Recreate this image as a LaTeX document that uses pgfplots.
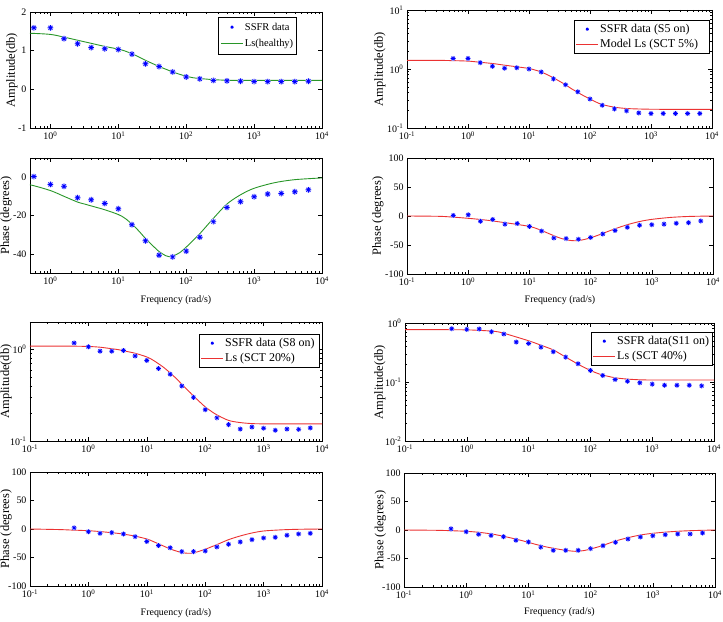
\documentclass[border=0pt]{standalone}
\usepackage{fontspec}
\setmainfont{Liberation Serif}
\usepackage{pgfplots}
\pgfplotsset{compat=1.18}
\usepackage{pgfplotstable}

\definecolor{fitgreen}{RGB}{40,150,40}
\definecolor{fitred}{RGB}{235,50,50}

% MATLAB-style '*' marker (plus and cross) with a faint halo
\pgfdeclareplotmark{mstar}{%
  \pgfsetfillcolor{blue!20}%
  \pgfpathcircle{\pgfpointorigin}{1.1\pgfplotmarksize}\pgfusepathqfill
  \pgfpathmoveto{\pgfqpoint{-\pgfplotmarksize}{0pt}}\pgfpathlineto{\pgfqpoint{\pgfplotmarksize}{0pt}}%
  \pgfpathmoveto{\pgfqpoint{0pt}{-\pgfplotmarksize}}\pgfpathlineto{\pgfqpoint{0pt}{\pgfplotmarksize}}%
  \pgfpathmoveto{\pgfqpoint{-0.707\pgfplotmarksize}{-0.707\pgfplotmarksize}}\pgfpathlineto{\pgfqpoint{0.707\pgfplotmarksize}{0.707\pgfplotmarksize}}%
  \pgfpathmoveto{\pgfqpoint{-0.707\pgfplotmarksize}{0.707\pgfplotmarksize}}\pgfpathlineto{\pgfqpoint{0.707\pgfplotmarksize}{-0.707\pgfplotmarksize}}%
  \pgfusepathqstroke}

% SSFR measurements: amplitude (a) and phase (p) for healthy, S5, S8, S11
\pgfplotstableread{
f     a1    p1     a2     p2     a3     p3     a4     p4
0.57  1.59  0.3    1.51   1      1.18   2      0.80   2
1     1.59  -3.8   1.51   2      1.07   -4.7   0.78   -3
1.585 1.31  -4.8   1.28   -9     0.96   -7.6   0.79   -7.6
2.512 1.18  -10.7  1.11   -6     0.96   -6.4   0.71   -9.4
3.981 1.08  -11.8  1.03   -14    0.975  -8.7   0.65   -11.7
6.310 1.05  -13.7  1.05   -13    0.85   -13.4  0.475  -18
10    1.03  -16.5  1.00   -18    0.76   -22    0.45   -21
15.85 0.91  -24.8  0.89   -26    0.62   -29    0.39   -30
25.12 0.66  -33.2  0.68   -38    0.537  -33    0.326  -35.7
39.81 0.59  -40.7  0.54   -39    0.40   -39.7  0.264  -35.7
63.10 0.45  -41.6  0.41   -40    0.30   -39.7  0.204  -35.7
100   0.32  -38.6  0.31   -37    0.22   -38.5  0.157  -32.7
158.5 0.27  -31.3  0.243  -31    0.179  -31.5  0.129  -27.5
251.2 0.23  -23.2  0.211  -25    0.151  -26.8  0.110  -21.6
398.1 0.22  -15.8  0.195  -19.5  0.135  -22.7  0.103  -15.8
631.0 0.21  -12.8  0.180  -16    0.142  -18.7  0.097  -12.3
1000  0.20  -10.2  0.176  -15    0.138  -15.7  0.092  -10
1585  0.20  -8.8   0.176  -14    0.131  -14.6  0.088  -8.2
2512  0.20  -8.5   0.176  -12.6  0.135  -11    0.088  -7
3981  0.20  -7.6   0.176  -11.5  0.134  -8.7   0.088  -7
6310  0.21  -6.6   0.176  -8.6   0.139  -7.6   0.086  -5.3
}\ssfr

% Model Ls responses for the same four cases
\pgfplotstableread{
f      a1     p1     a2     p2     a3     p3     a4     p4
0.1    1.45   -3     1.40   0      1.09   0      0.77   0
0.3162 1.45   -3.5   1.40   -0.5   1.09   -1     0.77   -0.5
0.5    1.45   -4     1.39   -1.5   1.09   -1.8   0.77   -1.0
1      1.42   -7     1.36   -4     1.08   -3     0.765  -2.3
1.585  1.35   -10    1.30   -6     1.06   -4.5   0.75   -4
2.512  1.27   -13    1.24   -8.5   1.02   -6.5   0.73   -6.8
3.162  1.23   -14    1.20   -10    1.00   -7.6   0.71   -8.8
3.981  1.19   -15    1.16   -11.5  0.97   -9     0.67   -11
6.310  1.11   -17    1.09   -14.5  0.91   -12.5  0.58   -16
10     1.04   -19.5  1.02   -18    0.83   -17.5  0.50   -21.6
12.59  0.99   -21.5  0.96   -21    0.77   -21.5  0.46   -24.7
15.85  0.92   -24.5  0.89   -25    0.70   -26    0.42   -27.5
19.95  0.84   -28    0.80   -29.5  0.63   -30.5  0.385  -30
25.12  0.75   -32    0.71   -34    0.555  -35    0.35   -32
31.62  0.67   -35.5  0.62   -38    0.485  -38.5  0.305  -34
39.81  0.59   -38.8  0.54   -41    0.417  -41.4  0.264  -35.7
50.12  0.52   -41    0.46   -42.5  0.36   -42.6  0.23   -37
56.23  0.485  -41.5  0.43   -42.7  0.335  -42.6  0.215  -37.4
63.10  0.45   -41.2  0.40   -42.3  0.31   -42    0.20   -37.2
79.43  0.39   -39.5  0.35   -40.5  0.27   -39    0.177  -36
100    0.34   -36.5  0.31   -37.5  0.236  -35.6  0.157  -33.3
125.9  0.30   -33    0.275  -34    0.212  -31.5  0.142  -30.3
158.5  0.28   -29.5  0.25   -30    0.193  -27.4  0.131  -27
251.2  0.25   -21.5  0.225  -22    0.168  -18.7  0.118  -19.3
398.1  0.235  -14    0.214  -15    0.159  -12.2  0.112  -13.5
631.0  0.23   -9.2   0.21   -9.5   0.155  -7     0.109  -8.8
1000   0.23   -5.8   0.208  -5.8   0.154  -3.5   0.108  -5.8
1995   0.23   -2.9   0.207  -2.5   0.154  -1.5   0.108  -2.9
3981   0.23   -1.3   0.207  -0.8   0.154  -0.5   0.108  -1.2
10000  0.23   -0.4   0.207  0      0.154  0      0.108  0
}\model

\newcommand\tk{\fontsize{10}{12}\selectfont}
\newcommand\dec[1]{10\textsuperscript{#1}}

% common look of every panel
\pgfplotsset{
  legend image code/.code={\draw[mark repeat=2,mark phase=2,#1,mark size=1.5bp]
    plot coordinates {(0bp,0bp) (11bp,0bp) (22bp,0bp)};},
  every axis/.append style={
    scale only axis, xmode=log, xmax=10000,
    axis line style={line width=0.7bp},
    every tick/.style={black, line width=0.5bp},
    major tick length=4bp, minor tick length=2bp,
    tick label style={font=\tk},
    xlabel style={font=\tk},
    ylabel style={font=\fontsize{12.5}{14}\selectfont, anchor=center},
    minor xtick={0.2,0.3,0.4,0.5,0.6,0.7,0.8,0.9,2,3,4,5,6,7,8,9,20,30,40,50,60,70,80,90,200,300,400,500,600,700,800,900,2000,3000,4000,5000,6000,7000,8000,9000},
    legend style={font=\fontsize{12}{14}\selectfont, draw=black, line width=0.6bp,
      inner xsep=2bp, inner ysep=2.5bp, row sep=2.5bp, nodes={inner sep=1.5bp},
      at={(axis description cs:1,1)}, anchor=north east},
    legend cell align=left,
  },
}

\begin{document}
\begin{tikzpicture}
\path[use as bounding box] (0,0) rectangle (723bp,622bp);

% healthy machine: amplitude
\begin{axis}[at={(30bp,494bp)}, anchor=south west, width=292bp, height=116bp,
  xmin=0.5, xtick={1,10,100,1000,10000},
  xticklabels={\dec{0},\dec{1},\dec{2},\dec{3},\dec{4}},
  ymin=-1, ymax=2, ytick={-1,0,1,2}, yticklabels={-1,0,1,2},
  ylabel={Amplitude(db)}, ylabel style={at={(axis description cs:-0.062,0.5)}},
  legend style={xshift=-25bp, yshift=-5bp, font=\fontsize{10.5}{12.5}\selectfont,
    row sep=5bp, inner ysep=4bp}]
\addplot[only marks, mark=mstar, blue, mark size=2.8bp, line width=0.7bp] table[x=f, y=a1] {\ssfr};
\addlegendentry{SSFR data}
\addplot[fitgreen, line width=0.9bp, smooth] table[x=f, y=a1] {\model};
\addlegendentry{Ls(healthy)}
\end{axis}

% healthy machine: phase
\begin{axis}[at={(30bp,349bp)}, anchor=south west, width=292bp, height=115bp,
  xmin=0.5, xtick={1,10,100,1000,10000},
  xticklabels={\dec{0},\dec{1},\dec{2},\dec{3},\dec{4}},
  ymin=-50, ymax=10, ytick={-40,-20,0}, yticklabels={-40,-20,0},
  xlabel={Frequency (rad/s)}, xlabel style={at={(axis description cs:0.5,-0.235)}, anchor=center},
  ylabel={Phase (degrees)}, ylabel style={at={(axis description cs:-0.082,0.5)}}]
\addplot[only marks, mark=mstar, blue, mark size=2.8bp, line width=0.7bp] table[x=f, y=p1] {\ssfr};
\addplot[fitgreen, line width=0.9bp, smooth] table[x=f, y=p1] {\model};
\end{axis}

% S5 shorted: amplitude
\begin{axis}[at={(407bp,494bp)}, anchor=south west, width=305bp, height=118bp,
  xmin=0.1, xtick={0.1,1,10,100,1000,10000},
  xticklabels={\dec{-1},\dec{0},\dec{1},\dec{2},\dec{3},\dec{4}},
  ymode=log, ymin=0.1, ymax=10, ytick={0.1,1,10}, yticklabels={\dec{-1},\dec{0},\dec{1}},
  minor ytick={0.2,0.3,0.4,0.5,0.6,0.7,0.8,0.9,2,3,4,5,6,7,8,9},
  ylabel={Amplitude(db)}, ylabel style={at={(axis description cs:-0.089,0.5)}},
  legend style={xshift=-2bp, yshift=-10bp}]
\addplot[only marks, mark=mstar, blue, mark size=2.4bp, line width=0.7bp] table[x=f, y=a2] {\ssfr};
\addlegendentry{\makebox[106bp][l]{SSFR data (S5 on)}}
\addplot[fitred, line width=0.9bp, smooth] table[x=f, y=a2] {\model};
\addlegendentry{\makebox[106bp][l]{Model Ls (SCT 5\%)}}
\end{axis}

% S5 shorted: phase
\begin{axis}[at={(407bp,348bp)}, anchor=south west, width=306bp, height=116bp,
  xmin=0.1, xtick={0.1,1,10,100,1000,10000},
  xticklabels={\dec{-1},\dec{0},\dec{1},\dec{2},\dec{3},\dec{4}},
  ymin=-100, ymax=100, ytick={-100,-50,0,50,100}, yticklabels={-100,-50,0,50,100},
  xlabel={Frequency (rad/s)}, xlabel style={at={(axis description cs:0.5,-0.224)}, anchor=center},
  ylabel={Phase (degrees)}, ylabel style={at={(axis description cs:-0.095,0.5)}}]
\addplot[only marks, mark=mstar, blue, mark size=2.4bp, line width=0.7bp] table[x=f, y=p2] {\ssfr};
\addplot[fitred, line width=0.9bp, smooth] table[x=f, y=p2] {\model};
\end{axis}

% S8 shorted: amplitude
\begin{axis}[at={(30bp,181bp)}, anchor=south west, width=292bp, height=119bp,
  xmin=0.1, xtick={0.1,1,10,100,1000,10000},
  xticklabels={\dec{-1},\dec{0},\dec{1},\dec{2},\dec{3},\dec{4}},
  ymode=log, ymin=0.1, ymax=2, ytick={0.1,1}, yticklabels={\dec{-1},\dec{0}},
  minor ytick={0.2,0.3,0.4,0.5,0.6,0.7,0.8,0.9,2},
  ylabel={Amplitude(db)}, ylabel style={at={(axis description cs:-0.082,0.5)}},
  legend style={xshift=-2bp, yshift=-12bp}]
\addplot[only marks, mark=mstar, blue, mark size=2.4bp, line width=0.7bp] table[x=f, y=a3] {\ssfr};
\addlegendentry{\makebox[91bp][l]{SSFR data (S8 on)}}
\addplot[fitred, line width=0.9bp, smooth] table[x=f, y=a3] {\model};
\addlegendentry{\makebox[91bp][l]{Ls (SCT 20\%)}}
\end{axis}

% S8 shorted: phase
\begin{axis}[at={(30bp,36bp)}, anchor=south west, width=292bp, height=114bp,
  xmin=0.1, xtick={0.1,1,10,100,1000,10000},
  xticklabels={\dec{-1},\dec{0},\dec{1},\dec{2},\dec{3},\dec{4}},
  ymin=-100, ymax=100, ytick={-100,-50,0,50,100}, yticklabels={-100,-50,0,50,100},
  xlabel={Frequency (rad/s)}, xlabel style={at={(axis description cs:0.5,-0.237)}, anchor=center},
  ylabel={Phase (degrees)}, ylabel style={at={(axis description cs:-0.082,0.5)}}]
\addplot[only marks, mark=mstar, blue, mark size=2.4bp, line width=0.7bp] table[x=f, y=p3] {\ssfr};
\addplot[fitred, line width=0.9bp, smooth] table[x=f, y=p3] {\model};
\end{axis}

% S11 shorted: amplitude
\begin{axis}[at={(405bp,181bp)}, anchor=south west, width=309bp, height=118bp,
  xmin=0.1, xtick={0.1,1,10,100,1000,10000},
  xticklabels={\dec{-1},\dec{0},\dec{1},\dec{2},\dec{3},\dec{4}},
  ymode=log, ymin=0.01, ymax=1, ytick={0.01,0.1,1}, yticklabels={\dec{-2},\dec{-1},\dec{0}},
  minor ytick={0.02,0.03,0.04,0.05,0.06,0.07,0.08,0.09,0.2,0.3,0.4,0.5,0.6,0.7,0.8,0.9},
  ylabel={Amplitude(db)}, ylabel style={at={(axis description cs:-0.081,0.5)}},
  legend style={xshift=-1bp, yshift=-9bp}]
\addplot[only marks, mark=mstar, blue, mark size=2.4bp, line width=0.7bp] table[x=f, y=a4] {\ssfr};
\addlegendentry{\makebox[92bp][l]{SSFR data(S11 on)}}
\addplot[fitred, line width=0.9bp, smooth] table[x=f, y=a4] {\model};
\addlegendentry{\makebox[92bp][l]{Ls (SCT 40\%)}}
\end{axis}

% S11 shorted: phase
\begin{axis}[at={(404bp,35bp)}, anchor=south west, width=311bp, height=114bp,
  xmin=0.1, xtick={0.1,1,10,100,1000,10000},
  xticklabels={\dec{-1},\dec{0},\dec{1},\dec{2},\dec{3},\dec{4}},
  ymin=-100, ymax=100, ytick={-100,-50,0,50,100}, yticklabels={-100,-50,0,50,100},
  xlabel={Frequency (rad/s)}, xlabel style={at={(axis description cs:0.5,-0.22)}, anchor=center},
  ylabel={Phase (degrees)}, ylabel style={at={(axis description cs:-0.076,0.5)}}]
\addplot[only marks, mark=mstar, blue, mark size=2.4bp, line width=0.7bp] table[x=f, y=p4] {\ssfr};
\addplot[fitred, line width=0.9bp, smooth] table[x=f, y=p4] {\model};
\end{axis}
\end{tikzpicture}
\end{document}
